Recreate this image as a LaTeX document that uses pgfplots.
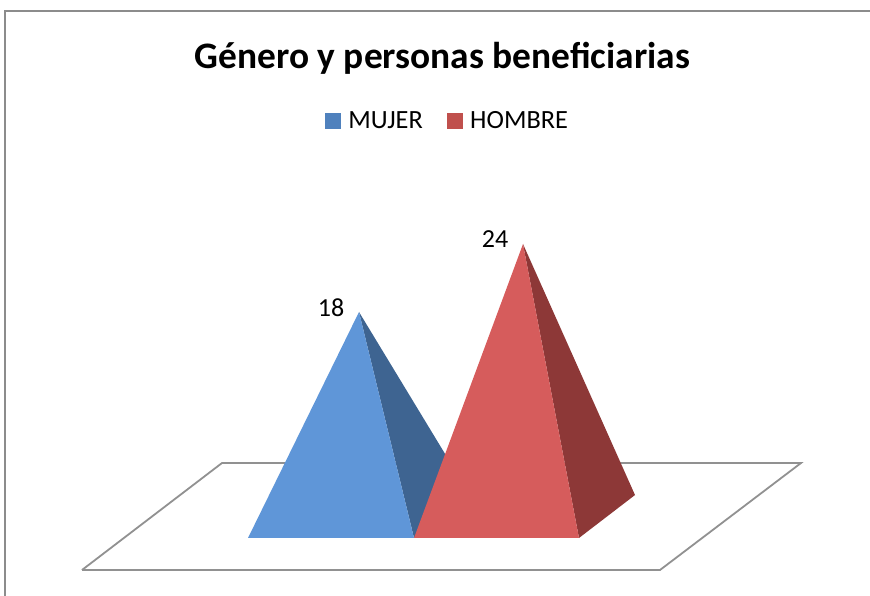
\documentclass[border=0pt]{standalone}
\usepackage{pgfplots}
\pgfplotsset{compat=1.18}
\usepackage{fontspec}
\setmainfont{Carlito}
\definecolor{blueF}{HTML}{5F96D8}
\definecolor{blueS}{HTML}{3E6491}
\definecolor{redF}{HTML}{D65C5C}
\definecolor{redS}{HTML}{8D3837}
\definecolor{legB}{HTML}{4F81BD}
\definecolor{legR}{HTML}{C0504D}
\definecolor{frameG}{HTML}{8C8C8C}
\definecolor{floorG}{HTML}{919191}
\begin{document}
\begin{tikzpicture}
\useasboundingbox (0,0) rectangle (870pt,596pt);
\begin{axis}[
  at={(0,0)}, anchor=south west,
  scale only axis, width=870pt, height=596pt,
  xmin=0, xmax=870, ymin=-7.059, ymax=45.53,
  hide axis, clip=false,
  title={Género y personas beneficiarias},
  title style={at={(axis cs:442.5,39.85)}, anchor=center, font=\fontsize{37.4}{42}\selectfont\bfseries},
  legend style={at={(axis cs:447.5,34.87)}, anchor=center, draw=none, fill=none,
    legend columns=2, font=\fontsize{26.3}{30}\selectfont,
    /tikz/every even column/.append style={column sep=22pt},
    /tikz/every odd column/.append style={column sep=6pt}},
  legend cell align=left,
  nodes near coords style={font=\fontsize{26}{30}\selectfont, text=black, /pgf/number format/assume math mode=true},
]
% chart frame
\addplot[frameG, line width=1.5pt, forget plot] coordinates {(5,-7.059) (5,44.55) (870,44.55)};
% floor
\addplot[floorG, line width=1.8pt, fill=white, forget plot] coordinates {(82,-4.765) (660,-4.765) (801,4.676) (222,4.676) (82,-4.765)};
% MUJER pyramid: side then front, height 18
\addplot[draw=none, fill=blueS, forget plot] coordinates {(359,18) (414,-1.94) (470,1.85)} -- cycle;
\addplot[draw=none, fill=blueF, forget plot] coordinates {(248,-1.94) (414,-1.94) (359,18)} -- cycle;
% HOMBRE pyramid: side then front, height 24
\addplot[draw=none, fill=redS, forget plot] coordinates {(523,24) (579,-1.94) (635,1.85)} -- cycle;
\addplot[draw=none, fill=redF, forget plot] coordinates {(414,-1.94) (579,-1.94) (523,24)} -- cycle;
% value labels
\addplot[draw=none, forget plot, nodes near coords, point meta=y, every node near coord/.append style={anchor=center, xshift=-28pt, yshift=4.5pt}] coordinates {(359,18) (523,24)};
% legend
\addlegendimage{legend image code/.code={\fill[legB] (0pt,-7.5pt) rectangle (15pt,7.5pt);}}
\addlegendentry{MUJER}
\addlegendimage{legend image code/.code={\fill[legR] (0pt,-7.5pt) rectangle (15pt,7.5pt);}}
\addlegendentry{HOMBRE}
\end{axis}
\end{tikzpicture}
\end{document}
